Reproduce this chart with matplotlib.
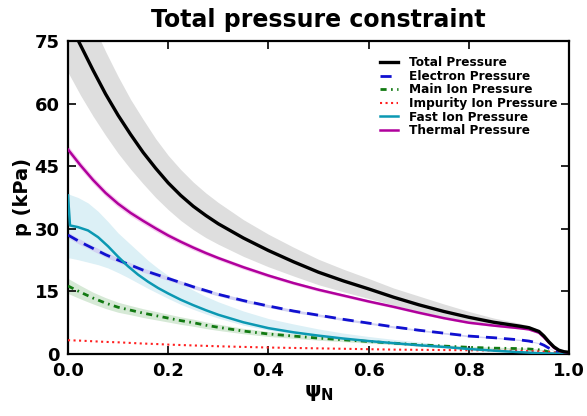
import numpy as np
import matplotlib
matplotlib.use("Agg")
import matplotlib.pyplot as plt

# ---------------- data ----------------
psi = [0, 0.025, 0.05, 0.075, 0.1, 0.125, 0.15, 0.175, 0.2, 0.225, 0.25, 0.275, 0.3,
       0.35, 0.4, 0.45, 0.5, 0.55, 0.6, 0.65, 0.7, 0.75, 0.8, 0.85, 0.9,
       0.92, 0.94, 0.95, 0.96, 0.97, 0.98, 0.99, 1.0]

total = [80, 74, 68, 62.3, 57.2, 52.6, 48.3, 44.5, 41.0, 38.0, 35.4, 33.2, 31.2,
         27.8, 24.8, 22.1, 19.6, 17.5, 15.6, 13.6, 11.8, 10.2, 8.8, 7.6, 6.7,
         6.3, 5.4, 4.3, 2.9, 1.7, 0.9, 0.55, 0.4]
total_lo = [67.5, 62, 57, 52.4, 48.1, 44.3, 40.8, 37.5, 34.6, 32.0, 29.8, 27.9, 26.3,
            23.4, 20.9, 18.7, 16.6, 14.9, 13.3, 11.7, 10.2, 8.9, 7.8, 6.9, 6.2,
            5.9, 5.1, 4.0, 2.6, 1.5, 0.75, 0.45, 0.3]
total_hi = [92.5, 86, 79, 72.5, 66.5, 61, 56.2, 51.6, 47.6, 44.2, 41.2, 38.6, 36.3,
            32.2, 28.7, 25.6, 22.7, 20.3, 18.1, 15.8, 13.9, 12.0, 10.2, 8.6, 7.4,
            6.8, 5.8, 4.6, 3.2, 1.9, 1.05, 0.65, 0.5]

thermal = [49, 45.2, 41.7, 38.6, 36.0, 33.8, 31.9, 30.1, 28.4, 26.9, 25.5, 24.2, 23.0,
           20.8, 18.8, 17.0, 15.4, 14.0, 12.6, 11.3, 9.9, 8.6, 7.5, 6.8, 6.2,
           5.9, 5.1, 4.0, 2.7, 1.5, 0.8, 0.45, 0.3]
thermal_err = [0.9, 0.9, 0.85, 0.8, 0.8, 0.75, 0.7, 0.7, 0.65, 0.6, 0.6, 0.55, 0.5,
               0.5, 0.45, 0.4, 0.4, 0.35, 0.35, 0.3, 0.3, 0.25, 0.25, 0.2, 0.2,
               0.2, 0.2, 0.15, 0.1, 0.1, 0.05, 0.05, 0.05]

electron = [28.5, 26.8, 25.3, 23.8, 22.5, 21.3, 20.1, 19.1, 18.1, 17.1, 16.1, 15.2, 14.3,
            12.8, 11.5, 10.3, 9.3, 8.3, 7.4, 6.5, 5.7, 5.0, 4.3, 3.9, 3.4,
            3.1, 2.6, 2.1, 1.4, 0.8, 0.4, 0.25, 0.2]
electron_err = [0.7, 0.65, 0.6, 0.6, 0.55, 0.55, 0.5, 0.5, 0.5, 0.45, 0.45, 0.45, 0.4,
                0.4, 0.35, 0.35, 0.3, 0.3, 0.25, 0.25, 0.2, 0.2, 0.2, 0.15, 0.15,
                0.15, 0.1, 0.1, 0.1, 0.05, 0.05, 0.05, 0.05]

main_ion = [16.3, 14.8, 13.4, 12.2, 11.2, 10.5, 9.8, 9.2, 8.6, 8.0, 7.5, 6.9, 6.4,
            5.5, 4.8, 4.3, 3.8, 3.4, 3.0, 2.6, 2.2, 1.9, 1.6, 1.4, 1.3,
            1.2, 1.0, 0.8, 0.5, 0.3, 0.2, 0.1, 0.1]
main_ion_err = [1.8, 1.6, 1.4, 1.3, 1.2, 1.1, 1.05, 1.0, 0.95, 0.9, 0.85, 0.8, 0.75,
                0.65, 0.6, 0.55, 0.5, 0.45, 0.4, 0.35, 0.3, 0.3, 0.25, 0.25, 0.2,
                0.2, 0.2, 0.15, 0.1, 0.1, 0.05, 0.05, 0.05]

impurity = [3.3, 3.2, 3.05, 2.9, 2.8, 2.65, 2.5, 2.4, 2.25, 2.15, 2.05, 1.95, 1.85,
            1.7, 1.55, 1.45, 1.35, 1.25, 1.15, 1.05, 1.0, 0.95, 0.9, 0.85, 0.75,
            0.7, 0.6, 0.55, 0.45, 0.35, 0.3, 0.25, 0.2]

psi_fast = [0, 0.004, 0.02, 0.04, 0.06, 0.08, 0.1, 0.12, 0.14, 0.16,
            0.18, 0.2, 0.225, 0.25, 0.275, 0.3, 0.35, 0.4, 0.45, 0.5,
            0.55, 0.6, 0.65, 0.7, 0.75, 0.8, 0.85, 0.9, 0.95, 1.0]
fast = [38, 30.8, 30.4, 29.6, 28.0, 25.8, 23.3, 21.0, 19.0, 17.3,
        15.8, 14.5, 13.0, 11.7, 10.5, 9.4, 7.6, 6.2, 5.2, 4.4,
        3.7, 3.1, 2.6, 2.1, 1.7, 1.2, 0.8, 0.45, 0.15, 0.05]
fast_lo = [23, 23, 22.6, 22.0, 21.4, 20.6, 19.5, 18.3, 17.0, 15.7,
           14.5, 13.3, 11.9, 10.7, 9.6, 8.6, 6.9, 5.7, 4.8, 4.0,
           3.4, 2.8, 2.4, 1.9, 1.5, 1.05, 0.65, 0.3, 0.05, 0]
fast_hi = [38.5, 38.2, 37.5, 36.2, 34.2, 31.7, 29.0, 26.8, 24.6, 22.4,
           20.5, 18.8, 17.0, 15.3, 13.8, 12.5, 10.3, 8.5, 7.2, 6.0,
           5.0, 4.2, 3.5, 2.9, 2.3, 1.7, 1.2, 0.8, 0.4, 0.1]

labels = ["Total Pressure", "Electron Pressure", "Main Ion Pressure",
          "Impurity Ion Pressure", "Fast Ion Pressure", "Thermal Pressure"]
xticks = [0.0, 0.2, 0.4, 0.6, 0.8, 1.0]
yticks = [0, 15, 30, 45, 60, 75]

# ---------------- plot ----------------
plt.rcParams['font.family'] = ['DejaVu Sans']
plt.rcParams['font.weight'] = 'bold'
plt.rcParams['mathtext.default'] = 'bf'

fig = plt.figure(figsize=(5.87, 4.16), dpi=100)
ax = fig.add_axes([68/587, 62/416, (569-68)/587, (354-41)/416])

ax.fill_between(psi, total_lo, total_hi, color='#dedede', lw=0, zorder=1)
ax.fill_between(psi_fast, fast_lo, fast_hi, color='#dcf0f6', lw=0, zorder=1)
ax.fill_between(psi, np.array(main_ion) - main_ion_err, np.array(main_ion) + main_ion_err,
                color='#d6e9d6', lw=0, zorder=1.1)
ax.fill_between(psi, np.array(electron) - electron_err, np.array(electron) + electron_err,
                color='#d2d2f2', lw=0, zorder=1.2)
ax.fill_between(psi, np.array(thermal) - thermal_err, np.array(thermal) + thermal_err,
                color='#f6cdf0', lw=0, zorder=1.2)

ax.plot(psi, total, color='black', lw=2.4, label=labels[0], zorder=5)
ax.plot(psi, electron, color='#1010d0', lw=2.0, dashes=(4, 2.5), label=labels[1], zorder=4)
ax.plot(psi, main_ion, color='#127a12', lw=2.0, dashes=(2.2, 1.6, 0.6, 1.6), label=labels[2], zorder=4)
ax.plot(psi, impurity, color='#ff2020', lw=1.5, ls=':', label=labels[3], zorder=4)
ax.plot(psi_fast, fast, color='#0b98b2', lw=1.8, label=labels[4], zorder=4)
ax.plot(psi, thermal, color='#b0009c', lw=1.8, label=labels[5], zorder=4)

ax.set_xlim(0, 1.0)
ax.set_ylim(0, 75)
ax.set_xticks(xticks)
ax.set_xticklabels([f"{t:.1f}" for t in xticks])
ax.set_yticks(yticks)
ax.set_yticklabels([str(t) for t in yticks])
ax.tick_params(direction='in', length=6, width=1.2, top=True, right=True,
               labelsize=13, pad=6)
for lab in ax.get_xticklabels() + ax.get_yticklabels():
    lab.set_fontweight('bold')
for s in ax.spines.values():
    s.set_linewidth(1.6)

ax.set_xlabel(r'$\mathbf{\psi_N}$', fontsize=15, labelpad=2)
ax.set_ylabel('p (kPa)', fontsize=14, fontweight='bold', labelpad=2)
ax.set_title('Total pressure constraint', fontsize=17, fontweight='bold', pad=10)

leg = ax.legend(loc='upper right', bbox_to_anchor=(0.999, 0.986), frameon=False,
                prop={'size': 8.7, 'weight': 'bold'}, handlelength=1.5,
                labelspacing=0.05, handletextpad=0.9)

fig.savefig('out.png', dpi=100)
